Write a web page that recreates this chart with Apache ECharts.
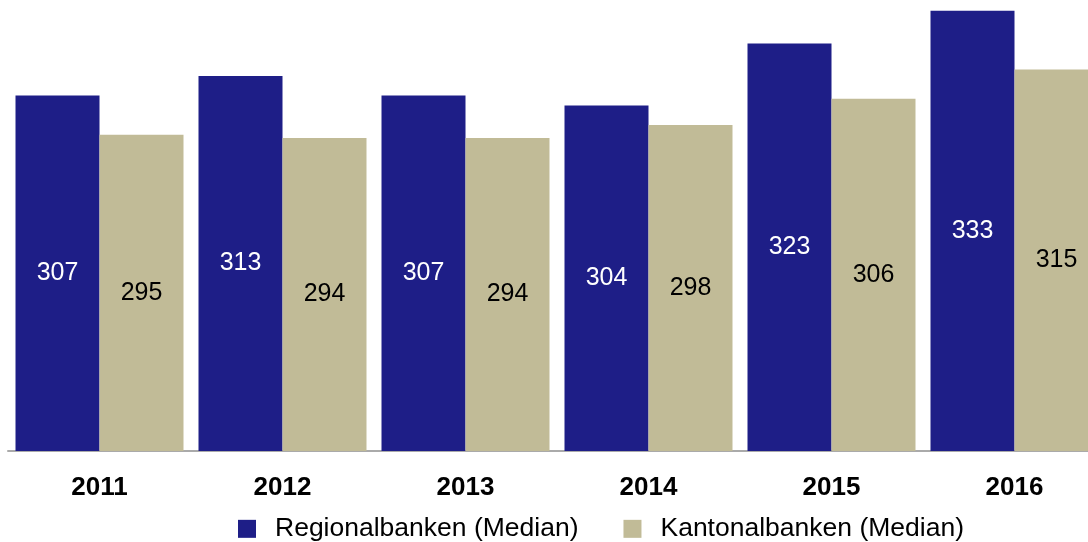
<style>html,body{margin:0;padding:0;overflow:hidden;}</style>
<script src="https://cdn.jsdelivr.net/npm/echarts@6/dist/echarts.min.js"></script>
<div id="myChart" style="position:absolute;left:0;top:-20px;width:1120px;height:562px;"></div>
<script type="text/javascript">

  var chartDom = document.getElementById("myChart");
  var myChart = echarts.init(chartDom);

  // data
  var years = ["2011", "2012", "2013", "2014", "2015", "2016"];
  var regional = [307, 313, 307, 304, 323, 333];
  var kantonal = [295, 294, 294, 298, 306, 315];
  var seriesNames = ["Regionalbanken (Median)", "Kantonalbanken (Median)"];

  var colors = ["#1e1e87", "#c1bb97"];
  var font = "Liberation Sans, Arial, sans-serif";

  // chart div is shifted up 20px so the plot can reach above the page edge
  var option = {
    backgroundColor: "#ffffff",
    color: colors,
    animation: false,
    grid: {
      left: 8,
      top: 8,
      width: 1098,
      height: 463,
      containLabel: false
    },
    legend: {
      left: 233,
      top: 521,
      itemWidth: 18,
      itemHeight: 18,
      itemGap: 45,
      icon: "rect",
      textStyle: {
        fontFamily: font,
        fontSize: 26.5,
        color: "#000",
        padding: [0, 0, 0, 14]
      },
      data: seriesNames
    },
    xAxis: {
      type: "category",
      data: years,
      axisTick: { show: false },
      axisLine: { lineStyle: { color: "#aaaaaa", width: 2 } },
      axisLabel: {
        margin: 14,
        fontFamily: font,
        fontSize: 26,
        fontWeight: "bold",
        color: "#000"
      }
    },
    yAxis: {
      type: "value",
      min: 198,
      max: 340,
      show: false,
      splitLine: { show: false }
    },
    series: [
      {
        name: seriesNames[0],
        type: "bar",
        data: regional,
        barWidth: 84,
        barGap: "0%",
        label: {
          show: true,
          position: "inside",
          color: "#fff",
          fontFamily: font,
          fontSize: 25
        }
      },
      {
        name: seriesNames[1],
        type: "bar",
        data: kantonal,
        barWidth: 84,
        barGap: "0%",
        label: {
          show: true,
          position: "inside",
          color: "#000",
          fontFamily: font,
          fontSize: 25
        }
      }
    ]
  };

  myChart.setOption(option);
</script>
